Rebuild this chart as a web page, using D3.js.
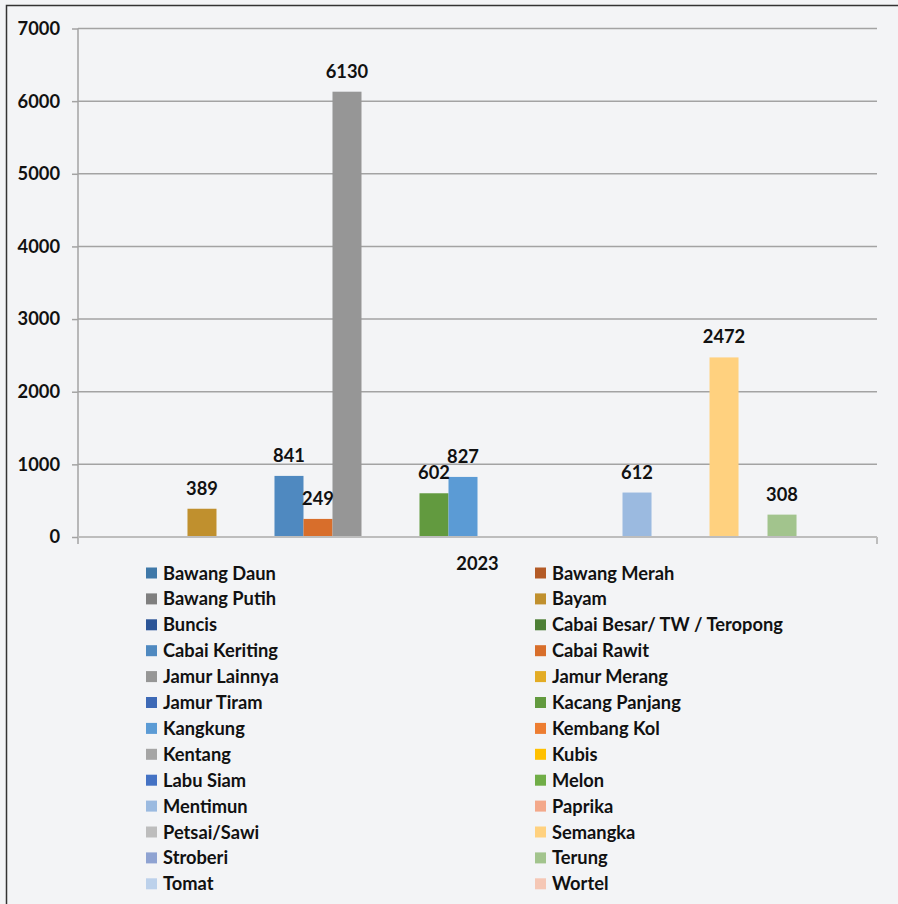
<!DOCTYPE html>
<html>
<head>
<meta charset="utf-8">
<script src="https://cdn.jsdelivr.net/npm/d3@7"></script>
<style>
  html, body { margin: 0; padding: 0; background: #f3f4f6; }
  svg { display: block; }
  text { font-family: "Lato", "Open Sans", sans-serif; font-weight: bold; fill: #111; }
</style>
</head>
<body>
<script>
const categories = ["2023"];
const seriesNames = [
  "Bawang Daun", "Bawang Merah", "Bawang Putih", "Bayam", "Buncis",
  "Cabai Besar/ TW / Teropong", "Cabai Keriting", "Cabai Rawit", "Jamur Lainnya",
  "Jamur Merang", "Jamur Tiram", "Kacang Panjang", "Kangkung", "Kembang Kol",
  "Kentang", "Kubis", "Labu Siam", "Melon", "Mentimun", "Paprika",
  "Petsai/Sawi", "Semangka", "Stroberi", "Terung", "Tomat", "Wortel"
];
const values2023 = [
  0, 0, 0, 389, 0,
  0, 841, 249, 6130,
  0, 0, 602, 827, 0,
  0, 0, 0, 0, 612, 0,
  0, 2472, 0, 308, 0, 0
];
const seriesColors = [
  "#3f78a8", "#b35a26", "#7f7f7f", "#c0902e", "#2c5597",
  "#4d7f36", "#4f89c0", "#d86e2b", "#969696",
  "#e3ac25", "#3d69b6", "#629a3f", "#5b9bd5", "#ed7d31",
  "#a5a5a5", "#ffc000", "#4472c4", "#70ad47", "#9bbae0", "#f3a88a",
  "#bdbdbd", "#ffd17f", "#8fa3d2", "#a2c48d", "#bcd1eb", "#f5c7b5"
];
const yTicks = [0, 1000, 2000, 3000, 4000, 5000, 6000, 7000];

const W = 898, H = 904;
const FS = 18.3;
const svg = d3.select("body").append("svg").attr("width", W).attr("height", H);

svg.append("rect").attr("width", W).attr("height", H).attr("fill", "#f3f4f6");
// frame
svg.append("path").attr("d", `M6.5,${H} V5.5 H${W}`).attr("fill", "none")
  .attr("stroke", "#333").attr("stroke-width", 1.5);

const plot = { left: 78, right: 877, top: 28.5, bottom: 537 };

const x0 = d3.scaleBand().domain(categories).range([plot.left, plot.right]).padding(0);
const x1 = d3.scaleBand().domain(seriesNames).range([0, x0.bandwidth()])
  .paddingInner(0).paddingOuter(0.775);
const y = d3.scaleLinear().domain([0, 7000]).range([plot.bottom, plot.top]);

// gridlines
svg.append("g").selectAll("line").data(yTicks.filter(d => d > 0)).join("line")
  .attr("x1", plot.left).attr("x2", plot.right)
  .attr("y1", d => y(d)).attr("y2", d => y(d))
  .attr("stroke", "#a3a3a3").attr("stroke-width", 1.5);

// y axis
const yAxis = svg.append("g").attr("transform", `translate(${plot.left},0)`)
  .call(d3.axisLeft(y).tickValues(yTicks).tickSize(6).tickPadding(12).tickFormat(d3.format("d")));
yAxis.select(".domain").remove();
yAxis.selectAll(".tick line").attr("stroke", "#a3a3a3").attr("stroke-width", 1.5);
yAxis.selectAll(".tick text").attr("font-size", FS).attr("font-family", "Lato, 'Open Sans', sans-serif")
  .attr("font-weight", "bold").attr("fill", "#111");
svg.append("line").attr("x1", plot.left).attr("x2", plot.left)
  .attr("y1", plot.top).attr("y2", plot.bottom + 7)
  .attr("stroke", "#a3a3a3").attr("stroke-width", 1.5);

// bars
const data = seriesNames.map((s, i) => ({ series: s, value: values2023[i], color: seriesColors[i], cat: categories[0] }));
const barG = svg.append("g");
barG.selectAll("rect").data(data.filter(d => d.value > 0)).join("rect")
  .attr("x", d => x0(d.cat) + x1(d.series))
  .attr("width", x1.bandwidth())
  .attr("y", d => y(d.value))
  .attr("height", d => y(0) - y(d.value))
  .attr("fill", d => d.color);

// x axis
svg.append("line").attr("x1", plot.left).attr("x2", plot.right)
  .attr("y1", plot.bottom).attr("y2", plot.bottom)
  .attr("stroke", "#bdbdbd").attr("stroke-width", 2);
svg.append("line").attr("x1", plot.right).attr("x2", plot.right)
  .attr("y1", plot.bottom).attr("y2", plot.bottom + 7)
  .attr("stroke", "#bdbdbd").attr("stroke-width", 2);
svg.append("text").attr("x", x0(categories[0]) + x0.bandwidth() / 2).attr("y", 570)
  .attr("text-anchor", "middle").attr("font-size", FS).text(categories[0]);

// labels
barG.selectAll("text").data(data.filter(d => d.value > 0)).join("text")
  .attr("x", d => x0(d.cat) + x1(d.series) + x1.bandwidth() / 2)
  .attr("y", d => y(d.value) - 14)
  .attr("text-anchor", "middle").attr("font-size", FS)
  .text(d => d.value);

// legend
const leg = svg.append("g");
const li = leg.selectAll("g").data(data).join("g")
  .attr("transform", (d, i) => {
    const col = i % 2, row = Math.floor(i / 2);
    return `translate(${col === 0 ? 146 : 535},${573 + row * 25.9})`;
  });
li.append("rect").attr("x", 0).attr("y", -5.5).attr("width", 11).attr("height", 11).attr("fill", d => d.color);
li.append("text").attr("x", 17).attr("y", 6.5).attr("font-size", FS).text(d => d.series);
</script>
</body>
</html>
